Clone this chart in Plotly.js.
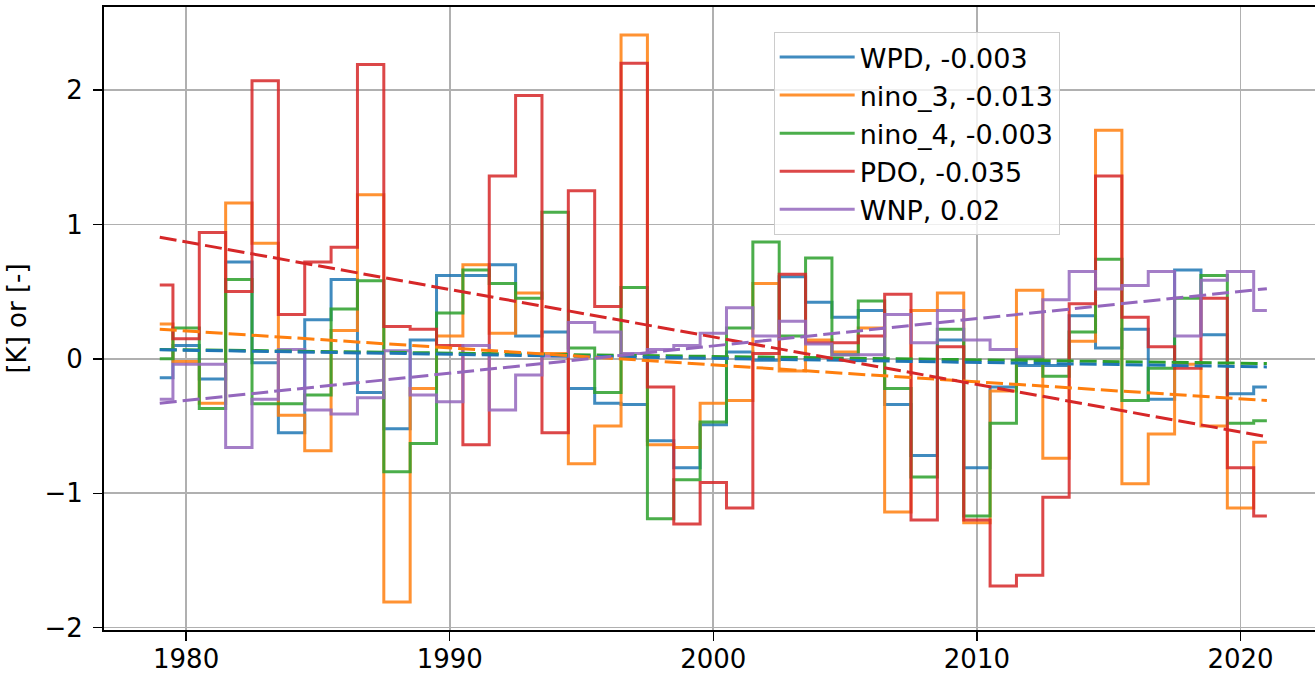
<!DOCTYPE html>
<html>
<head>
<meta charset="utf-8">
<script src="https://cdn.plot.ly/plotly-3.0.1.min.js"></script>
<style>html,body{margin:0;padding:0;background:#fff;overflow:hidden}#chart{width:1315px;height:674px}</style>
</head>
<body>
<div id="chart"></div>
<script>
const years = [1979,1980,1981,1982,1983,1984,1985,1986,1987,1988,1989,1990,1991,1992,1993,1994,1995,1996,1997,1998,1999,2000,2001,2002,2003,2004,2005,2006,2007,2008,2009,2010,2011,2012,2013,2014,2015,2016,2017,2018,2019,2020,2021];

const wpd = [-0.14,0.10,-0.15,0.72,-0.03,-0.55,0.29,0.59,-0.25,-0.52,0.14,0.62,0.62,0.70,0.17,0.20,-0.22,-0.33,-0.34,-0.61,-0.81,-0.49,0.05,-0.01,0.61,0.42,0.31,0.36,-0.34,-0.72,0.14,-0.81,-0.21,-0.05,-0.05,0.32,0.08,0.22,-0.30,0.66,0.18,-0.26,-0.21];
const nino3 = [0.26,-0.02,-0.33,1.16,0.86,-0.42,-0.685,0.21,1.22,-1.81,-0.22,0.17,0.70,0.19,0.49,0.04,-0.78,-0.50,2.41,-0.64,-0.66,-0.33,-0.31,0.56,-0.09,0.14,0.05,0.23,-1.14,0.36,0.49,-1.22,-0.24,0.51,-0.74,0.13,1.70,-0.93,-0.56,-0.04,-0.50,-1.11,-0.62];
const nino4 = [0.00,0.23,-0.37,0.59,-0.335,-0.335,-0.27,0.37,0.58,-0.84,-0.63,0.34,0.66,0.56,0.45,1.09,0.08,-0.25,0.53,-1.19,-0.90,-0.47,0.23,0.87,0.17,0.75,0.03,0.43,-0.22,-0.88,0.22,-1.17,-0.48,0.00,-0.13,0.20,0.74,-0.31,-0.07,0.45,0.62,-0.48,-0.46];
const pdo = [0.55,0.15,0.94,0.50,2.07,0.33,0.72,0.83,2.19,0.24,0.22,0.10,-0.64,1.36,1.96,-0.55,1.25,0.39,2.20,-0.21,-1.23,-0.92,-1.11,0.04,0.63,0.12,0.12,0.17,0.48,-1.20,0.09,-1.20,-1.69,-1.61,-1.03,0.41,1.36,0.31,0.09,-0.07,0.45,-0.81,-1.17];
const wnp = [-0.30,-0.04,-0.04,-0.66,-0.30,0.07,-0.38,-0.41,-0.29,0.06,-0.27,-0.32,0.10,-0.38,-0.12,0.02,0.27,0.20,0.04,0.07,0.10,0.19,0.38,0.17,0.28,0.11,0.03,0.03,0.33,0.12,0.36,0.14,0.07,0.015,0.44,0.65,0.52,0.545,0.65,0.17,0.585,0.65,0.36];

const seriesNames = ["WPD, -0.003","nino_3, -0.013","nino_4, -0.003","PDO, -0.035","WNP, 0.02"];
const seriesColors = ["#1f77b4","#ff7f0e","#2ca02c","#d62728","#9467bd"];
const seriesValues = [wpd, nino3, nino4, pdo, wnp];

const trendYears = [1979, 2021];
const trendWpd = [0.067, -0.060];
const trendNino3 = [0.220, -0.310];
const trendNino4 = [0.070, -0.035];
const trendPdo = [0.905, -0.580];
const trendWnp = [-0.330, 0.522];
const trendValues = [trendWpd, trendNino3, trendNino4, trendPdo, trendWnp];
const trendOrder = [2, 0, 1, 3, 4];

const xTicks = [1980, 1990, 2000, 2010, 2020];
const yTicks = [-2, -1, 0, 1, 2];

const traces = [];
for (let i = 0; i < seriesValues.length; i++) {
  traces.push({
    type: 'scatter', mode: 'lines', x: years, y: seriesValues[i],
    name: seriesNames[i], opacity: 0.85,
    line: {shape: 'hvh', color: seriesColors[i], width: 3},
    hoverinfo: 'skip'
  });
}
for (const i of trendOrder) {
  traces.push({
    type: 'scatter', mode: 'lines', x: trendYears, y: trendValues[i],
    showlegend: false,
    line: {color: seriesColors[i], width: 3, dash: '17px,6px'},
    hoverinfo: 'skip'
  });
}

const font = {family: 'DejaVu Sans', size: 26, color: '#000'};
const layout = {
  width: 1315, height: 674,
  margin: {l: 104, r: 0, t: 7, b: 44, pad: 0},
  paper_bgcolor: '#fff', plot_bgcolor: '#fff',
  font: font,
  showlegend: true,
  legend: {
    x: 0.553, y: 0.960, xanchor: 'left', yanchor: 'top',
    bgcolor: 'rgba(255,255,255,0.8)', bordercolor: '#cccccc', borderwidth: 1,
    font: {family: 'DejaVu Sans', size: 27, color: '#000'},
    itemwidth: 75
  },
  xaxis: {
    range: [1976.885, 2022.826], tickvals: xTicks, ticktext: xTicks.map(String),
    showgrid: true, gridcolor: '#b0b0b0', gridwidth: 1.8,
    zeroline: false, showline: true, linecolor: '#000', linewidth: 2, mirror: true,
    ticks: 'outside', ticklen: 9, tickwidth: 1.4, tickcolor: '#000',
    ticklabelstandoff: -4,
    tickfont: font
  },
  yaxis: {
    range: [-2.018, 2.618], tickvals: yTicks,
    showgrid: true, gridcolor: '#b0b0b0', gridwidth: 1.8,
    zeroline: false, showline: true, linecolor: '#000', linewidth: 2, mirror: false,
    ticks: 'outside', ticklen: 9, tickwidth: 1.4, tickcolor: '#000',
    ticklabelstandoff: 5,
    tickfont: font,
    title: {text: '[K] or [-]', font: font, standoff: 10}
  }
};

Plotly.newPlot('chart', traces, layout, {staticPlot: true, displayModeBar: false});
</script>
</body>
</html>
